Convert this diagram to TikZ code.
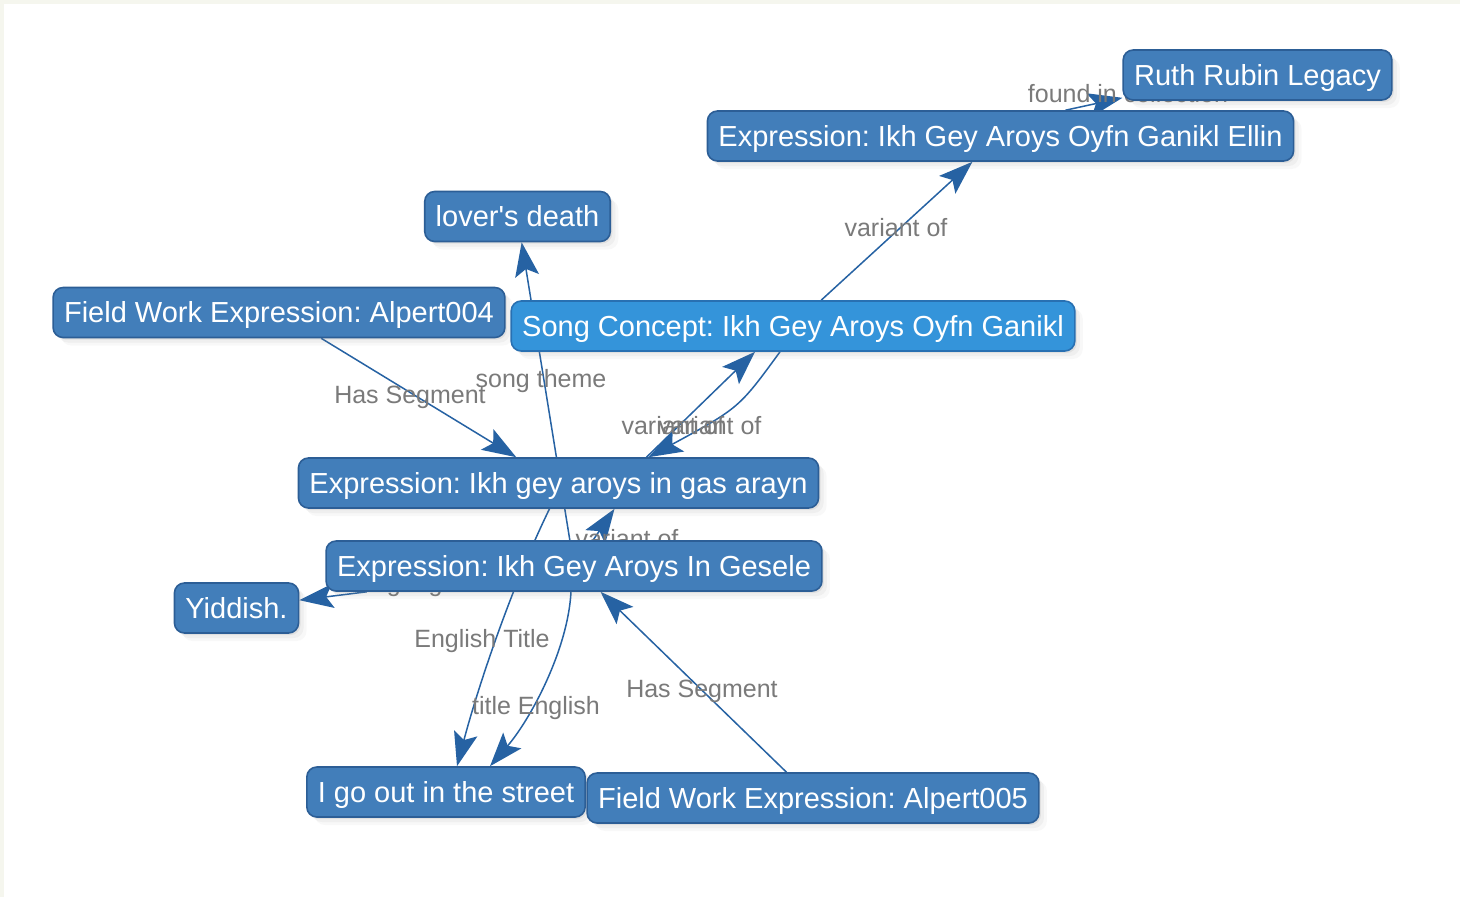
\documentclass[tikz,border=0pt]{standalone}
\usepackage{fontspec}
\setmainfont{Liberation Sans}
\usetikzlibrary{arrows.meta,calc,shadows}
\frenchspacing

\pgfdeclarelayer{bg}
\pgfdeclarelayer{edgelayer}
\pgfdeclarelayer{labellayer}
\pgfsetlayers{bg,edgelayer,labellayer,main}

\definecolor{nodefill}{RGB}{66,126,186}
\definecolor{nodeline}{RGB}{44,94,150}
\definecolor{conceptfill}{RGB}{52,148,218}
\definecolor{conceptline}{RGB}{40,112,178}
\definecolor{edgecol}{RGB}{38,98,163}
\definecolor{labelgray}{RGB}{122,122,122}
\definecolor{framecol}{RGB}{245,246,238}

\tikzset{
  entity/.style={draw=nodeline, fill=nodefill, line width=1.6pt,
    rounded corners=10pt, text=white, font=\fontsize{29}{34}\selectfont,
    inner xsep=11pt, inner ysep=0pt, minimum height=50pt,
    text height=22pt, text depth=2pt,
    drop shadow={shadow xshift=2pt, shadow yshift=-2pt, opacity=.12},
    drop shadow={shadow xshift=5pt, shadow yshift=-5pt, opacity=.08},
    drop shadow={shadow xshift=8pt, shadow yshift=-8pt, opacity=.05}},
  concept/.style={entity, draw=conceptline, fill=conceptfill},
  rel/.style={draw=edgecol, line width=1.5pt,
    -{Stealth[length=34pt,width=24pt,inset=7pt]}},
  rellabel/.style={text=labelgray, font=\fontsize{25}{30}\selectfont,
    inner sep=0pt, text height=18pt, text depth=0pt}
}

\begin{document}
\begin{tikzpicture}[x=1pt,y=-1pt]
\useasboundingbox (0,0) rectangle (1460,897);

\begin{pgfonlayer}{bg}
  \fill[framecol] (0,0) rectangle (1460,897);
  \fill[white] (4,4) rectangle (1460,897);
\end{pgfonlayer}

% entities
\node[entity]  (ruth)   at (1257.5,75)  {Ruth Rubin Legacy};
\node[entity]  (ellin)  at (1000.5,136) {Expression: Ikh Gey Aroys Oyfn Ganikl Ellin};
\node[entity]  (lover)  at (517.5,216.5) {lover\textquotesingle s death};
\node[entity]  (fw4)    at (279,312.5)  {Field Work Expression: Alpert004};
\node[concept] (song)   at (793,326)    {Song Concept: Ikh Gey Aroys Oyfn Ganikl};
\node[entity]  (gas)    at (558.5,483)  {Expression: Ikh gey aroys in gas arayn};
\node[entity]  (gesele) at (574,566)    {Expression: Ikh Gey Aroys In Gesele};
\node[entity]  (yid)    at (236.5,608)  {Yiddish.};
\node[entity]  (street) at (446,792)    {I go out in the street};
\node[entity]  (fw5)    at (813,798)    {Field Work Expression: Alpert005};

% relations
\begin{pgfonlayer}{edgelayer}
  \draw[rel] ($(ellin.north)+(65,0)$) -- ($(ruth.south west)+(0,-3)$);
  \draw[rel] (song) -- (ellin);
  \draw[rel] (gesele) -- (lover);
  \draw[rel] (fw4) -- (gas);
  \draw[rel] ($(gas.north)+(88,0)$) -- ($(song.south)+(-38,0)$);
  \draw[rel] ($(song.south)+(-13,0)$) .. controls (739,408) .. ($(gas.north)+(90,0)$);
  \draw[rel] ($(gas.south)+(-9,0)$) .. controls (511,588) and (478,687) .. ($(street.north)+(11,0)$);
  \draw[rel] ($(gesele.south)+(-3,0)$) .. controls (568,650) and (530,720) .. ($(street.north)+(44,0)$);
  \draw[rel] ($(gesele.north)+(19,0)$) -- ($(gas.south)+(56,0)$);
  \draw[rel] (fw5) -- (gesele);
  \draw[rel] (gesele) -- (yid);
\end{pgfonlayer}

% relation labels
\begin{pgfonlayer}{labellayer}
  \node[rellabel] (lcoll)  at (1128,93)  {found in collection};
  \node[rellabel] (lvar1)  at (896,227)  {variant of};
  \node[rellabel] (ltheme) at (541,378)  {song theme};
  \node[rellabel] (lseg1)  at (410,394)  {Has Segment};
  \node[rellabel] (lvar2)  at (673,425)  {variant of};
  \node[rellabel] (lvar3)  at (710,425)  {variant of};
  \node[rellabel] (lvar4)  at (627,538)  {variant of};
  \node[rellabel] (llang)  at (405,582)  {language};
  \node[rellabel] (leng1)  at (482,638)  {English Title};
  \node[rellabel] (leng2)  at (536,705)  {title English};
  \node[rellabel] (lseg2)  at (702,688)  {Has Segment};
\end{pgfonlayer}
\end{tikzpicture}
\end{document}
